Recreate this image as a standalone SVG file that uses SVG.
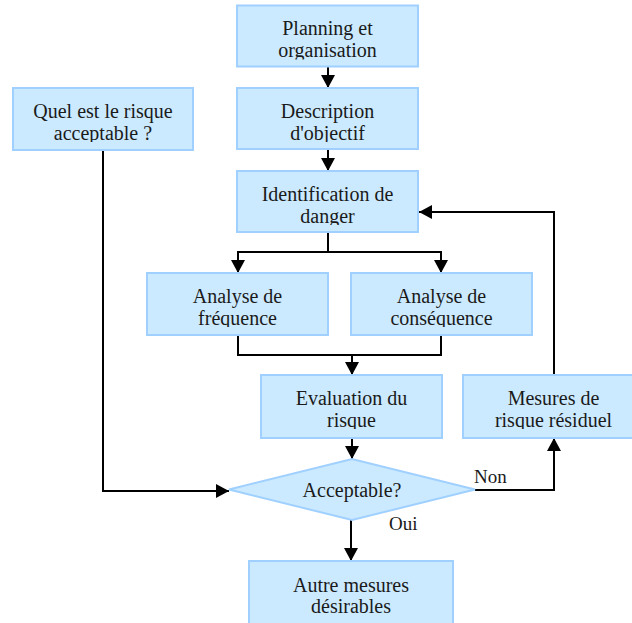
<svg xmlns="http://www.w3.org/2000/svg" width="632" height="623" viewBox="0 0 632 623" font-family="'Liberation Serif', 'DejaVu Serif', serif">
  <style>
    .box { fill: #cceaff; stroke: #9fd0ff; stroke-width: 2; }
    .lbl { font-family: 'Liberation Serif', 'DejaVu Serif', serif; font-size: 20px; fill: #1a1a1a; text-anchor: middle; }
    .edge-lbl { font-family: 'Liberation Serif', 'DejaVu Serif', serif; font-size: 19px; fill: #1a1a1a; }
    .wire { fill: none; stroke: #000; stroke-width: 2; marker-end: url(#arrow); }
    .wire-plain { fill: none; stroke: #000; stroke-width: 2; }
  </style>
  <defs>
    <marker id="arrow" markerUnits="userSpaceOnUse" markerWidth="14" markerHeight="14" refX="13" refY="7" orient="auto">
      <path d="M0,0 L13,7 L0,14 Z" fill="#000"/>
    </marker>
    <!-- labels are cut off a little above the box bottom -->
    <clipPath id="textClip" clipPathUnits="userSpaceOnUse">
      <rect x="-20" y="0" width="260" height="54"/>
    </clipPath>
  </defs>

  <rect width="632" height="623" fill="#ffffff"/>

  <g id="connectors">
    <path class="wire" d="M328,67 V88"/>
    <path class="wire" d="M328,149 V171"/>
    <path class="wire" d="M328,232 V252 H238 V273"/>
    <path class="wire" d="M328,252 H441 V273"/>
    <path class="wire-plain" d="M238,335 V355 H441 V335"/>
    <path class="wire" d="M352,355 V375"/>
    <path class="wire" d="M352,438 V459"/>
    <path class="wire" d="M475,490 H554 V438"/>
    <path class="wire" d="M554,375 V212 H419"/>
    <path class="wire" d="M103,150 V491 H229"/>
    <path class="wire" d="M351,520 V561"/>
  </g>

  <g id="planning" transform="translate(237,5.5)">
    <rect class="box" width="181" height="61"/>
    <text class="lbl" font-family="'Liberation Serif', serif" clip-path="url(#textClip)"><tspan x="90.5" y="29.5">Planning et</tspan><tspan x="90.5" y="51.5">organisation</tspan></text>
  </g>

  <g id="description" transform="translate(237,88)">
    <rect class="box" width="181" height="61"/>
    <text class="lbl" clip-path="url(#textClip)"><tspan x="90.5" y="30">Description</tspan><tspan x="90.5" y="52">d'objectif</tspan></text>
  </g>

  <g id="identification" transform="translate(237,171)">
    <rect class="box" width="181" height="61"/>
    <text class="lbl" clip-path="url(#textClip)"><tspan x="90.5" y="30">Identification de</tspan><tspan x="90.5" y="52">danger</tspan></text>
  </g>

  <g id="frequence" transform="translate(147,273)">
    <rect class="box" width="181" height="62"/>
    <text class="lbl" clip-path="url(#textClip)"><tspan x="90.5" y="30">Analyse de</tspan><tspan x="90.5" y="52">fréquence</tspan></text>
  </g>

  <g id="consequence" transform="translate(351,273)">
    <rect class="box" width="181" height="62"/>
    <text class="lbl" clip-path="url(#textClip)"><tspan x="90.5" y="30">Analyse de</tspan><tspan x="90.5" y="52">conséquence</tspan></text>
  </g>

  <g id="evaluation" transform="translate(261,375)">
    <rect class="box" width="181" height="63"/>
    <text class="lbl" clip-path="url(#textClip)"><tspan x="90.5" y="30">Evaluation du</tspan><tspan x="90.5" y="52">risque</tspan></text>
  </g>

  <g id="mesures" transform="translate(463,375)">
    <rect class="box" width="181" height="63"/>
    <text class="lbl" clip-path="url(#textClip)"><tspan x="90.5" y="30">Mesures de</tspan><tspan x="90.5" y="52">risque résiduel</tspan></text>
  </g>

  <g id="risque-acceptable" transform="translate(13,88)">
    <rect class="box" width="180" height="62"/>
    <text class="lbl" clip-path="url(#textClip)"><tspan x="90" y="30">Quel est le risque</tspan><tspan x="90" y="52">acceptable ?</tspan></text>
  </g>

  <g id="acceptable">
    <polygon class="box" points="229,489.5 352,459 475,489.5 352,520"/>
    <text class="lbl" x="352" y="497">Acceptable?</text>
  </g>

  <g id="autre-mesures" transform="translate(249,561)">
    <rect class="box" width="204" height="63"/>
    <text class="lbl" clip-path="url(#textClip)"><tspan x="102" y="31">Autre mesures</tspan><tspan x="102" y="52">désirables</tspan></text>
  </g>

  <g id="edge-labels">
    <text class="edge-lbl" x="474" y="483">Non</text>
    <text class="edge-lbl" x="389" y="530">Oui</text>
  </g>
</svg>
